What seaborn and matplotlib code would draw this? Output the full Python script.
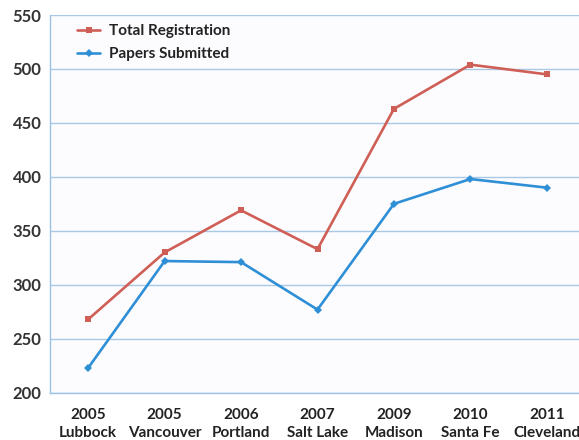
import matplotlib
matplotlib.use("Agg")
import matplotlib.pyplot as plt
import seaborn as sns
import pandas as pd

categories = ["2005\nLubbock", "2005\nVancouver", "2006\nPortland", "2007\nSalt Lake",
              "2009\nMadison", "2010\nSanta Fe", "2011\nCleveland"]
total_registration = [268, 330, 369, 333, 463, 504, 495]
papers_submitted = [223, 322, 321, 277, 375, 398, 390]
y_ticks = [200, 250, 300, 350, 400, 450, 500, 550]

sns.set_theme(style="white")
plt.rcParams['font.family'] = ['Lato', 'DejaVu Sans']

df = pd.DataFrame({
    "x": list(range(len(categories))) * 2,
    "value": total_registration + papers_submitted,
    "series": ["Total Registration"] * len(categories) + ["Papers Submitted"] * len(categories),
})

fig = plt.figure(figsize=(5.79, 4.4), dpi=100)
fig.patch.set_facecolor("white")
ax = fig.add_axes([50/579, 1-392.7/440, 535/579, 377.7/440])
ax.set_facecolor("#fcfcfe")

red = "#cf5f56"
blue = "#2f8fd6"
sns.lineplot(data=df, x="x", y="value", hue="series", style="series",
             markers={"Total Registration": "s", "Papers Submitted": "D"},
             dashes=False, palette={"Total Registration": red, "Papers Submitted": blue},
             markersize=4.5, linewidth=1.9, markeredgewidth=0, ax=ax)

ax.set_xlim(-0.5, 6.5)
ax.set_ylim(200, 550)
ax.set_yticks(y_ticks)
ax.set_yticklabels([str(t) for t in y_ticks], fontsize=12, fontweight="bold", color="#333333")
ax.set_xticks(range(len(categories)))
ax.set_xticklabels(categories, fontsize=11, fontweight="bold", color="#222222", linespacing=1.4)
ax.set_xticks([i + 0.5 for i in range(len(categories) - 1)], minor=True)
ax.tick_params(axis="x", which="major", length=0, pad=11)
ax.tick_params(axis="x", which="minor", length=4, color="#9cc3e4", width=1)
ax.tick_params(axis="y", length=4, color="#9cc3e4", width=1, pad=2)
ax.set_xlabel("")
ax.set_ylabel("")
ax.grid(axis="y", color="#a8c8e6", linewidth=1)
for s in ["top", "right"]:
    ax.spines[s].set_visible(False)
for s in ["left", "bottom"]:
    ax.spines[s].set_color("#9cc3e4")
    ax.spines[s].set_linewidth(1)

leg = ax.legend(loc="upper left", bbox_to_anchor=(0.025, 1.012), frameon=False,
                fontsize=11, handlelength=1.5, handletextpad=0.6, labelspacing=0.6)
for t in leg.get_texts():
    t.set_fontweight("bold")
    t.set_color("#222222")

fig.savefig("out.png", dpi=100)
